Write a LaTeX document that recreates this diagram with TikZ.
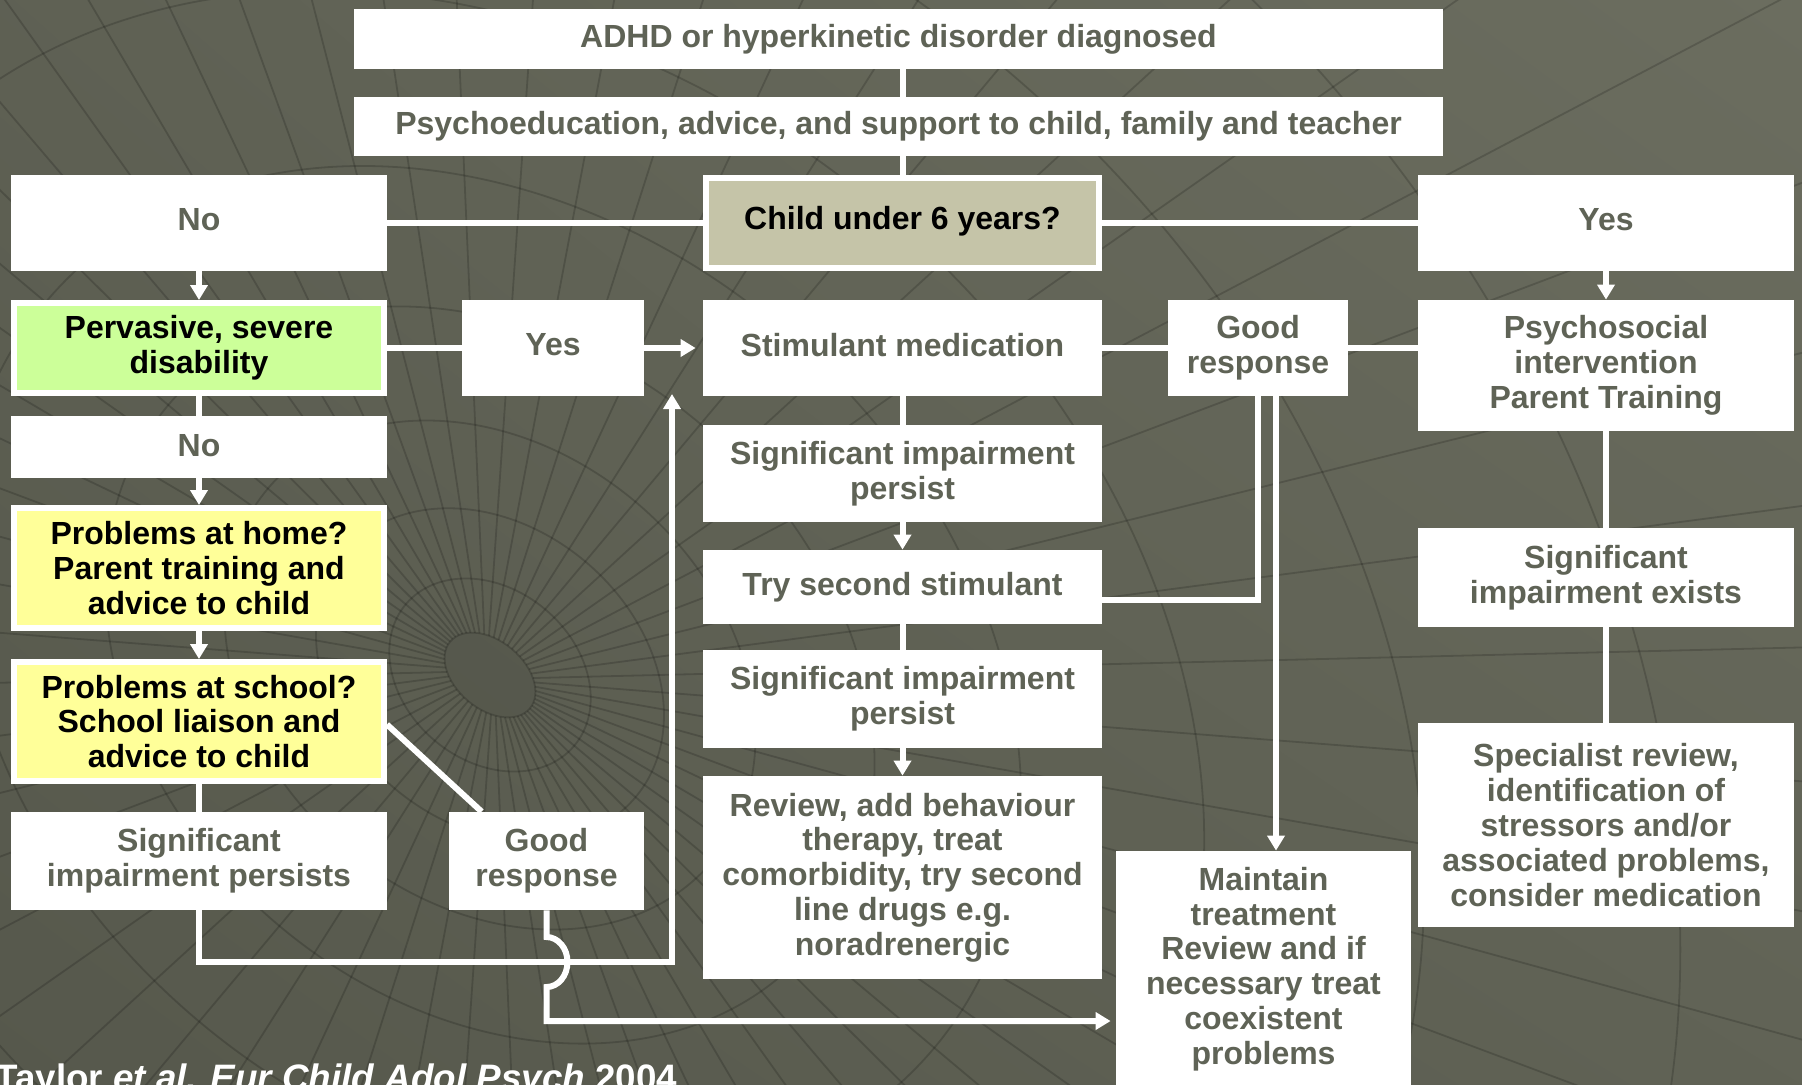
\documentclass[tikz,border=0pt]{standalone}
\usepackage{fontspec}
\setmainfont{Liberation Sans}
\usetikzlibrary{arrows.meta,calc,shadings}
\definecolor{bgA}{HTML}{56584C}
\definecolor{bgB}{HTML}{6B6D5F}
\definecolor{txt}{HTML}{5F6356}
\definecolor{khaki}{HTML}{C5C4A8}
\definecolor{lgreen}{HTML}{CCFF99}
\definecolor{lyellow}{HTML}{FFFF99}
\begin{document}
\begin{tikzpicture}[x=0.5pt,y=-0.5pt,
  box/.style={rectangle, fill=white, inner sep=0pt, align=center, text=txt,
    font=\bfseries\fontsize{16}{17.4}\selectfont},
  hbox/.style={box, draw=white, line width=3pt, text=black},
  conn/.style={draw=white, line width=3pt},
  arr/.style={conn, -{Triangle[width=8.5pt,length=7.5pt]}},
  mesh/.style={draw=black, draw opacity=0.17, line width=0.9pt}
]
\useasboundingbox (0,0) rectangle (1802,1084);
\shade[lower left=bgA, upper right=bgB, lower right=bgA!50!bgB, upper left=bgA!60!bgB] (0,0) rectangle (1802,1084);
\begin{scope}
\clip (0,0) rectangle (1802,1084);
\begin{scope}[shift={(490,675)}, rotate=-40]
\foreach \a in {0,6,...,354} \draw[mesh] (\a:52 and 34) -- (\a:1900 and 1500);
\foreach \r in {110,190,290,420,580,780,1020,1300} \draw[mesh] (0,0) ellipse[x radius=\r, y radius=0.78*\r];
\filldraw[mesh, fill=black, fill opacity=0.06] (0,0) ellipse[x radius=52, y radius=34];
\end{scope}
\end{scope}

% nodes
\node[box, minimum width=544.5pt, minimum height=30pt] (adhd) at (898.5,39) {ADHD or hyperkinetic disorder diagnosed};
\node[box, minimum width=544.5pt, minimum height=29.5pt] (psy) at (898.5,126.5) {Psychoeducation, advice, and support to child, family and teacher};
\node[box, minimum width=188pt, minimum height=48pt, text depth=3.5pt] (no1) at (199,223) {No};
\node[hbox, fill=khaki, minimum width=196.5pt, minimum height=45pt, text depth=5.6pt] (child) at (902.5,223) {Child under 6 years?};
\node[box, minimum width=188pt, minimum height=48pt, text depth=3.5pt] (yes1) at (1606,223) {Yes};
\node[hbox, fill=lgreen, minimum width=185pt, minimum height=45pt] (perv) at (199,348) {Pervasive, severe\\disability};
\node[box, minimum width=91pt, minimum height=48pt, text depth=4pt] (yes2) at (553,348) {Yes};
\node[box, minimum width=199.5pt, minimum height=48pt, text depth=3.5pt] (stim) at (902.5,348) {Stimulant medication};
\node[box, minimum width=90pt, minimum height=48pt] (good1) at (1258,348) {Good\\response};
\node[box, minimum width=188pt, minimum height=65.5pt] (psoc) at (1606,365.5) {Psychosocial\\intervention\\Parent Training};
\node[box, minimum width=188pt, minimum height=31pt, text depth=2pt] (no2) at (199,447) {No};
\node[box, minimum width=199.5pt, minimum height=48.5pt] (sip1) at (902.5,473.5) {Significant impairment\\persist};
\node[hbox, fill=lyellow, minimum width=185pt, minimum height=60pt] (home) at (199,568) {Problems at home?\\Parent training and\\advice to child};
\node[box, minimum width=199.5pt, minimum height=37pt] (try) at (902.5,587) {Try second stimulant};
\node[box, minimum width=188pt, minimum height=49.5pt] (sie) at (1606,577.5) {Significant\\impairment exists};
\node[hbox, fill=lyellow, minimum width=185pt, minimum height=59.5pt] (school) at (199,721.5) {Problems at school?\\School liaison and\\advice to child};
\node[box, minimum width=199.5pt, minimum height=49pt] (sip2) at (902.5,699) {Significant impairment\\persist};
\node[box, minimum width=188pt, minimum height=102pt] (spec) at (1606,825) {Specialist review,\\identification of\\stressors and/or\\associated problems,\\consider medication};
\node[box, minimum width=188pt, minimum height=49pt] (sipl) at (199,861) {Significant\\impairment persists};
\node[box, minimum width=97.5pt, minimum height=49pt] (good2) at (546.5,861) {Good\\response};
\node[box, minimum width=199.5pt, minimum height=101.5pt] (review) at (902.5,877.5) {Review, add behaviour\\therapy, treat\\comorbidity, try second\\line drugs e.g.\\noradrenergic};
\node[box, minimum width=147.5pt, minimum height=118pt] (maint) at (1263.5,969) {Maintain\\treatment\\Review and if\\necessary treat\\coexistent\\problems};
\node[anchor=base west, inner sep=0pt, text=white, font=\bfseries\fontsize{18.4}{20}\selectfont] (cite) at (-5,1090) {Taylor \textit{et al. Eur Child Adol Psych} 2004};

% connectors
\draw[conn] (child.north |- adhd.south) -- (child.north |- psy.north);
\draw[conn] (child.north |- psy.south) -- (child.north);
\draw[conn] (child.west) -- (no1.east);
\draw[conn] (child.east) -- (yes1.west);
\draw[arr] (no1.south) -- (perv.north);
\draw[conn] (perv.east) -- (yes2.west);
\draw[arr, shorten >=3.5pt] (yes2.east) -- (stim.west);
\draw[conn] (perv.south) -- (no2.north);
\draw[arr] (no2.south) -- (home.north);
\draw[arr] (home.south) -- (school.north);
\draw[conn] (school.south) -- (sipl.north);
\draw[conn] ($(school.east)+(0,3)$) -- ($(good2.north west)+(33,0)$);
\coordinate (lpA) at (672,962);
\coordinate (lpB) at (672,394);
\draw[arr] (sipl.south) |- (lpA) -- (lpB);
\coordinate (hA) at (548,937);
\coordinate (gA) at (548,1021);
\draw[arr, shorten >=2.5pt] (good2.south) -- (good2.south |- hA) arc[start angle=-90, end angle=90, x radius=21, y radius=25] -- (good2.south |- gA) -- (maint.west |- gA);
\draw[conn] (stim.south) -- (sip1.north);
\draw[arr] (sip1.south) -- (try.north);
\draw[conn] (try.south) -- (sip2.north);
\draw[arr] (sip2.south) -- (review.north);
\draw[conn] (stim.east) -- (good1.west);
\draw[conn] (good1.east) -- (good1.east -| psoc.west);
\draw[arr] (yes1.south) -- (psoc.north);
\draw[conn] (psoc.south) -- (sie.north);
\draw[conn] (sie.south) -- (spec.north);
\draw[conn] ($(try.east)+(0,13)$) -| (good1.south);
\coordinate (gB) at ($(good1.south)+(18,0)$);
\draw[arr] (gB) -- (gB |- maint.north);
\end{tikzpicture}
\end{document}
